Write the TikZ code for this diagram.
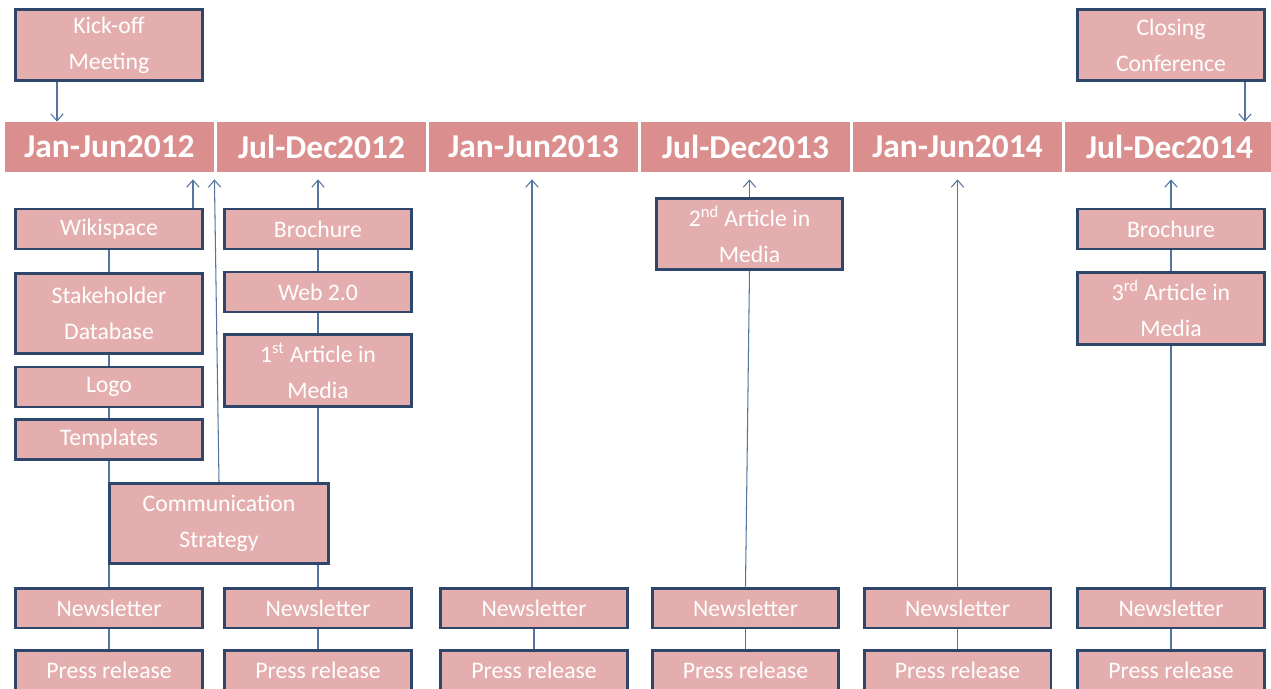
\documentclass[tikz,border=0pt]{standalone}
\usepackage{fontspec}
\setmainfont{Carlito}
\usetikzlibrary{arrows.meta}
\definecolor{barpink}{RGB}{218,142,142}
\definecolor{boxpink}{RGB}{229,174,174}
\definecolor{boxline}{RGB}{46,70,106}
\definecolor{linkblue}{RGB}{82,118,158}
\tikzset{
  period/.style={fill=barpink, text=white, font=\bfseries\fontsize{19}{21}\selectfont,
    minimum width=4.2cm, minimum height=1cm, inner sep=0pt},
  item/.style={fill=boxpink, draw=boxline, line width=1.7pt, text=white,
    font=\fontsize{13.5}{20.5}\selectfont, align=center, inner sep=0pt,
    minimum width=3.74cm, minimum height=0.8cm},
  link/.style={linkblue, line width=0.6pt},
  >={Straight Barb[length=4pt,width=7pt]}
}
\begin{document}
\begin{tikzpicture}[x=0.02cm,y=-0.02cm]
\useasboundingbox (0,0) rectangle (1271,689);
\foreach \i/\t in {1/Jan-Jun2012,2/Jul-Dec2012,3/Jan-Jun2013,4/Jul-Dec2013,5/Jan-Jun2014,6/Jul-Dec2014}
  \node[period] (bar\i) at ({109.5+212*(\i-1)},147) {\t};

\node[item,minimum height=1.42cm] (kick) at (109,45) {Kick-off\\Meeting};
\node[item,minimum height=1.42cm] (close) at (1171,45) {Closing\\Conference};

\node[item] (wiki) at (109,229) {Wikispace};
\node[item,minimum height=1.6cm] (stake) at (109,313.5) {Stakeholder\\Database};
\node[item] (logo) at (109,387) {Logo};
\node[item] (tmpl) at (109,439.5) {Templates};

\node[item] (bro2) at (318,229) {Brochure};
\node[item] (web) at (318,292) {Web 2.0};
\node[item,minimum height=1.44cm] (art1) at (318,370.5) {1\textsuperscript{st} Article in\\Media};

\node[item,minimum width=4.38cm,minimum height=1.6cm] (comm) at (219,523.5) {Communication\\Strategy};

\node[item,minimum height=1.42cm] (art2) at (749.5,234) {2\textsuperscript{nd} Article in\\Media};

\node[item] (bro6) at (1171,229) {Brochure};
\node[item,minimum height=1.44cm] (art3) at (1171,308.5) {3\textsuperscript{rd} Article in\\Media};

\foreach \i/\x in {1/109,2/318,3/534,4/745.5,5/957.5,6/1171} {
  \node[item] (nl\i) at (\x,608) {Newsletter};
  \node[item] (pr\i) at (\x,670.5) {Press release};
  \draw[link] (nl\i.south) -- (pr\i.north);
}

\draw[link,->] ([xshift=0.86cm]kick.south west) -- ([xshift=0.86cm]kick.south west |- bar1.north);
\draw[link,->] ([xshift=-0.42cm]close.south east) -- ([xshift=-0.42cm]close.south east |- bar6.north);

\draw[link,->,shorten >=4pt] ([xshift=-0.22cm]wiki.north east) -- ([xshift=-0.22cm]wiki.north east |- bar1.south);
\draw[link] (wiki.south) -- (stake.north);
\draw[link] (stake.south) -- (logo.north);
\draw[link] (logo.south) -- (tmpl.north);
\draw[link] (tmpl.south) -- (tmpl.south |- comm.north);
\draw[link] (nl1.north |- comm.south) -- (nl1.north);
\draw[link,->,shorten >=4pt] (comm.north) -- ([xshift=-0.01cm]bar1.south east);

\draw[link,->,shorten >=4pt] (bro2.north) -- (bro2.north |- bar2.south);
\draw[link] (bro2.south) -- (web.north);
\draw[link] (web.south) -- (art1.north);
\draw[link] (art1.south) -- (art1.south |- comm.north);
\draw[link] (nl2.north |- comm.south) -- (nl2.north);

\draw[link,->,shorten >=4pt] ([xshift=-0.04cm]nl3.north) -- ([xshift=-0.04cm]nl3.north |- bar3.south);

\draw[link] (nl4.north) -- (art2.south);
\draw[link,->,shorten >=4pt] (art2.north) -- (art2.north |- bar4.south);

\draw[link,->,shorten >=4pt] (nl5.north) -- (nl5.north |- bar5.south);

\draw[link,->,shorten >=4pt] (bro6.north) -- (bro6.north |- bar6.south);
\draw[link] (bro6.south) -- (art3.north);
\draw[link] (art3.south) -- (nl6.north);
\end{tikzpicture}
\end{document}
